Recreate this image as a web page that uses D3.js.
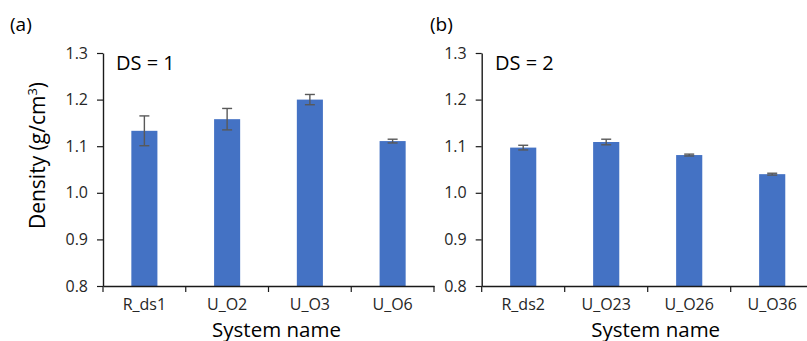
<!DOCTYPE html>
<html>
<head>
<meta charset="utf-8">
<script src="https://cdn.jsdelivr.net/npm/d3@7"></script>
<style>
  html, body { margin: 0; padding: 0; background: #fff; }
  svg { display: block; font-family: "Open Sans", sans-serif; }
</style>
</head>
<body>
<svg id="chart" width="807" height="341"></svg>
<script>
// Density of each system, grouped by degree of substitution (DS)
const catsA = ["R_ds1", "U_O2", "U_O3", "U_O6"];
const densA = [1.133, 1.158, 1.200, 1.111];
const errA  = [0.032, 0.023, 0.011, 0.004];

const catsB = ["R_ds2", "U_O23", "U_O26", "U_O36"];
const densB = [1.097, 1.109, 1.081, 1.040];
const errB  = [0.005, 0.006, 0.002, 0.002];

const yTicks = [0.8, 0.9, 1.0, 1.1, 1.2, 1.3];

const svg = d3.select("#chart");
const barColor = "#4472C4";
const errColor = "#595959";
const axisColor = "#1a1a1a";

function panel(opts) {
  const { cats, vals, errs, x0, x1, letter, letterX, dsText, dsX } = opts;
  const yTop = 53, yBot = 286;
  const g = svg.append("g");

  const x = d3.scaleBand().domain(cats).range([x0, x1]).padding(0);
  const y = d3.scaleLinear().domain([0.8, 1.3]).range([yBot, yTop]);

  // y axis
  const yAxis = g.append("g")
    .attr("transform", `translate(${x0},0)`)
    .call(d3.axisLeft(y).tickValues(yTicks).tickFormat(d3.format(".1f")).tickSize(6).tickPadding(9).tickSizeOuter(0));
  yAxis.select(".domain").attr("stroke", axisColor).attr("stroke-width", 1.4);
  yAxis.selectAll(".tick line").attr("stroke", axisColor).attr("stroke-width", 1.2);
  yAxis.selectAll(".tick text").attr("fill", "#262626").attr("font-size", 16).attr("font-family", "Open Sans");

  // bars
  const bw = x.bandwidth() * 0.315;
  g.selectAll("rect.bar").data(cats).join("rect")
    .attr("class", "bar")
    .attr("x", (c) => x(c) + x.bandwidth() / 2 - bw / 2)
    .attr("width", bw)
    .attr("y", (c, i) => y(vals[i]))
    .attr("height", (c, i) => y(0.8) - y(vals[i]))
    .attr("fill", barColor);

  // error bars
  const cap = 5;
  const eb = g.selectAll("g.err").data(cats).join("g").attr("class", "err")
    .attr("stroke", errColor).attr("stroke-width", 1.4);
  eb.append("line")
    .attr("x1", (c) => x(c) + x.bandwidth() / 2).attr("x2", (c) => x(c) + x.bandwidth() / 2)
    .attr("y1", (c, i) => y(vals[i] + errs[i])).attr("y2", (c, i) => y(vals[i] - errs[i]));
  eb.append("line")
    .attr("x1", (c) => x(c) + x.bandwidth() / 2 - cap).attr("x2", (c) => x(c) + x.bandwidth() / 2 + cap)
    .attr("y1", (c, i) => y(vals[i] + errs[i])).attr("y2", (c, i) => y(vals[i] + errs[i]));
  eb.append("line")
    .attr("x1", (c) => x(c) + x.bandwidth() / 2 - cap).attr("x2", (c) => x(c) + x.bandwidth() / 2 + cap)
    .attr("y1", (c, i) => y(vals[i] - errs[i])).attr("y2", (c, i) => y(vals[i] - errs[i]));

  // x axis: category labels centred, ticks on the category boundaries
  const xAxis = g.append("g")
    .attr("transform", `translate(0,${yBot})`)
    .call(d3.axisBottom(x).tickSize(0).tickPadding(13).tickSizeOuter(0));
  xAxis.select(".domain").attr("stroke", axisColor).attr("stroke-width", 1.4);
  xAxis.selectAll(".tick text").attr("fill", "#262626").attr("font-size", 16).attr("font-family", "Open Sans");
  const bounds = cats.map((c) => x(c)).concat([x.range()[1]]);
  xAxis.selectAll("line.bound").data(bounds).join("line")
    .attr("class", "bound")
    .attr("x1", (d) => d).attr("x2", (d) => d)
    .attr("y1", 0).attr("y2", 6)
    .attr("stroke", axisColor).attr("stroke-width", 1.2);

  // x axis title
  g.append("text")
    .attr("x", (x0 + x1) / 2 + 8).attr("y", 336.5)
    .attr("text-anchor", "middle").attr("font-size", 20.5).attr("fill", "#000")
    .text("System name");

  // panel letter and DS annotation
  g.append("text").attr("x", letterX).attr("y", 31)
    .attr("font-size", 19).attr("fill", "#000").text(letter);
  g.append("text").attr("x", dsX).attr("y", 69.5)
    .attr("font-size", 20).attr("fill", "#000").text(dsText);
}

panel({ cats: catsA, vals: densA, errs: errA, x0: 103, x1: 434,
        letter: "(a)", letterX: 10, dsText: "DS = 1", dsX: 116 });
panel({ cats: catsB, vals: densB, errs: errB, x0: 481.7, x1: 813.7,
        letter: "(b)", letterX: 430, dsText: "DS = 2", dsX: 495 });

// y axis title for the left panel
const yt = svg.append("text")
  .attr("transform", "translate(45,155.5) rotate(-90)")
  .attr("text-anchor", "middle").attr("font-size", 21).attr("fill", "#000");
yt.append("tspan").text("Density (g/cm");
yt.append("tspan").attr("font-size", 13).attr("dy", -8).text("3");
yt.append("tspan").attr("dy", 8).text(")");
</script>
</body>
</html>
